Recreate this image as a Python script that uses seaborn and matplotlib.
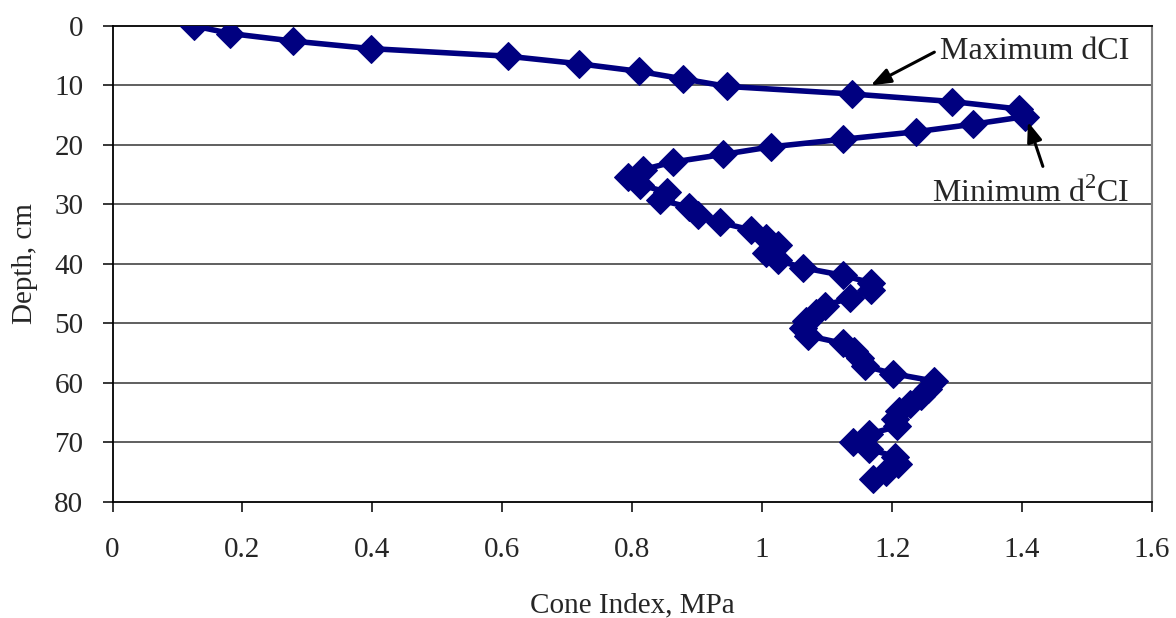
import seaborn as sns
import numpy as np
import matplotlib.pyplot as plt
import pandas as pd

# Cone index (MPa), top to bottom
cone_index = [0.126, 0.181, 0.278, 0.398, 0.608, 0.718, 0.810, 0.878, 0.946, 1.138,
              1.292, 1.396, 1.404, 1.325, 1.237, 1.124, 1.013, 0.940, 0.863, 0.817,
              0.794, 0.812, 0.853, 0.842, 0.888, 0.901, 0.935, 0.983, 1.006, 1.024,
              1.006, 1.024, 1.063, 1.124, 1.168, 1.168, 1.135, 1.096, 1.083, 1.068,
              1.063, 1.071, 1.124, 1.142, 1.150, 1.158, 1.201, 1.265, 1.255, 1.245,
              1.227, 1.210, 1.204, 1.207, 1.165, 1.140, 1.165, 1.205, 1.209, 1.190,
              1.170]
depth = [0.00, 1.27, 2.54, 3.81, 5.08, 6.35, 7.62, 8.89, 10.16, 11.43,
         12.70, 13.97, 15.24, 16.51, 17.78, 19.05, 20.32, 21.59, 22.86, 24.13,
         25.40, 26.67, 27.94, 29.21, 30.48, 31.75, 33.02, 34.29, 35.56, 36.83,
         38.10, 39.37, 40.64, 41.91, 43.18, 44.45, 45.72, 46.99, 48.26, 49.53,
         50.80, 52.07, 53.34, 54.61, 55.88, 57.15, 58.42, 59.69, 60.96, 62.23,
         63.50, 64.77, 66.04, 67.31, 68.58, 69.85, 71.12, 72.39, 73.66, 74.93,
         76.20]

x_ticks = [0, 0.2, 0.4, 0.6, 0.8, 1, 1.2, 1.4, 1.6]
x_labels = ["0", "0.2", "0.4", "0.6", "0.8", "1", "1.2", "1.4", "1.6"]
y_ticks = [0, 10, 20, 30, 40, 50, 60, 70, 80]

df = pd.DataFrame({"ci": cone_index, "depth": depth})

sns.set_style("white")
plt.rcParams['font.family'] = ['Liberation Serif', 'DejaVu Serif']
plt.rcParams['mathtext.fontset'] = 'custom'
plt.rcParams['mathtext.rm'] = 'Liberation Serif'

fig = plt.figure(figsize=(11.76, 6.18), dpi=100)
ax = fig.add_axes([0.0957, 0.1877, 0.8839, 0.7703])

navy = "#000080"
sns.lineplot(data=df, x="ci", y="depth", sort=False, estimator=None,
             color=navy, linewidth=4.0, marker="D", markersize=14.5,
             markeredgecolor=navy, ax=ax, zorder=3)

ax.set_xlim(0, 1.6)
ax.set_ylim(80, 0)
ax.set_xticks(x_ticks)
ax.set_xticklabels(x_labels)
ax.set_yticks(y_ticks)

for y in y_ticks[1:-1]:
    ax.axhline(y, color="#444444", linewidth=1.2, zorder=1)

for side in ["left", "bottom", "top"]:
    ax.spines[side].set_color("black")
    ax.spines[side].set_linewidth(1.3)
ax.spines["right"].set_color("#808080")
ax.spines["right"].set_linewidth(1.5)

ax.tick_params(axis="both", which="both", direction="out", length=7,
               width=1.1, color="black", labelsize=21, bottom=True, left=True)
ax.tick_params(axis="x", pad=18)
ax.tick_params(axis="y", pad=14)

ax.set_xlabel("Cone Index, MPa", fontsize=21, labelpad=21)
ax.set_ylabel("Depth, cm", fontsize=21, labelpad=12)

arrow = dict(arrowstyle="-|>,head_length=1.2,head_width=0.45", color="black",
             lw=2.2, shrinkA=0, shrinkB=0)
ax.annotate("", xy=(1.167, 10.0), xytext=(1.265, 4.4), arrowprops=arrow)
ax.text(1.273, 4.3, "Maximum dCI", fontsize=23, va="center", ha="left")

ax.annotate("", xy=(1.409, 16.1), xytext=(1.432, 23.6), arrowprops=arrow)
ax.text(1.261, 28.1, "Minimum d$^{2}$CI", fontsize=23, va="center", ha="left")

plt.savefig("out.png", dpi=100)
